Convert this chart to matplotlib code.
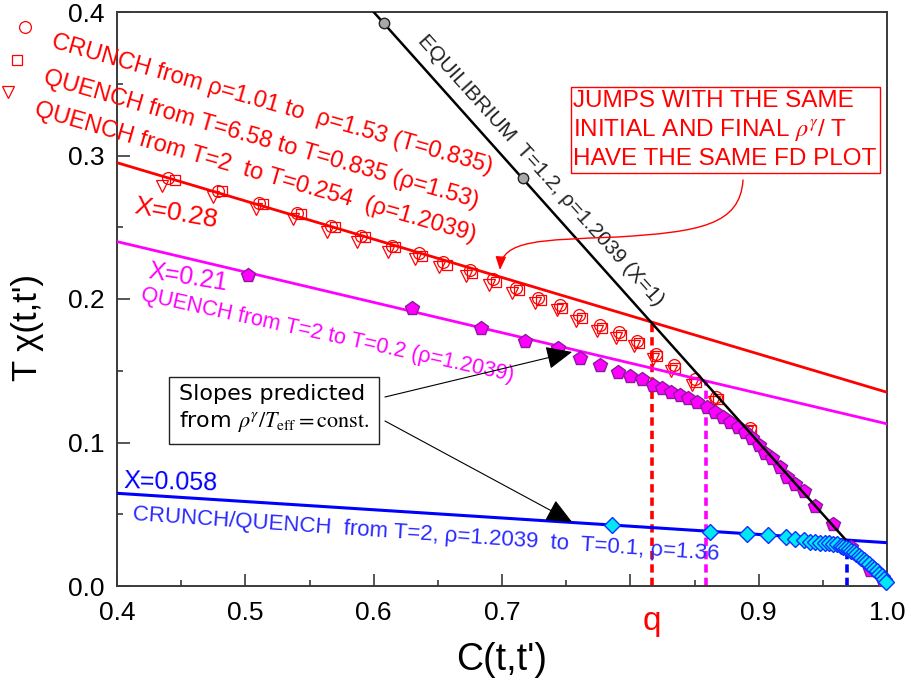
import matplotlib
matplotlib.use("Agg")
import matplotlib.pyplot as plt
from matplotlib.ticker import MultipleLocator, FixedLocator, FixedFormatter
from matplotlib.patches import FancyArrowPatch
from matplotlib.path import Path

plt.rcParams['font.family'] = ['Liberation Sans', 'DejaVu Sans']
plt.rcParams['mathtext.fontset'] = 'stix'

# ---------------- data ----------------
fit_C = [0.4, 1.0]
red_fit = [0.295, 0.135]        # X = 0.28
magenta_fit = [0.240, 0.113]    # X = 0.21
blue_fit = [0.0646, 0.0302]     # X = 0.058
eq_C = [0.6, 1.0]
eq_y = [0.4, 0.0]               # equilibrium, X = 1
eq_pts_C = [0.608, 0.716]
eq_pts_y = [0.392, 0.284]

x_ticks = [0.4, 0.5, 0.6, 0.7, 0.8, 0.9, 1.0]
x_tick_labels = ["0.4", "0.5", "0.6", "0.7", "", "0.9", "1.0"]
y_ticks = [0.0, 0.1, 0.2, 0.3, 0.4]
y_tick_labels = ["0.0", "0.1", "0.2", "0.3", "0.4"]

circ_C = [0.440, 0.479, 0.511, 0.540, 0.567, 0.590, 0.614, 0.635, 0.654, 0.675, 0.693, 0.711,
          0.728, 0.745, 0.760, 0.776, 0.791, 0.805, 0.820, 0.834, 0.850, 0.867, 0.893]
circ_y = [0.284, 0.275, 0.267, 0.260, 0.251, 0.244, 0.237, 0.232, 0.226, 0.220, 0.214, 0.208,
          0.201, 0.196, 0.189, 0.182, 0.177, 0.171, 0.162, 0.154, 0.144, 0.132, 0.110]
sq_C = [0.445, 0.482, 0.514, 0.543, 0.570, 0.593, 0.617, 0.638, 0.657, 0.677, 0.695, 0.713,
        0.730, 0.747, 0.762, 0.778, 0.793, 0.807, 0.821, 0.835, 0.851, 0.868, 0.894]
sq_y = [0.283, 0.275, 0.266, 0.259, 0.250, 0.243, 0.236, 0.230, 0.224, 0.218, 0.212, 0.206,
        0.199, 0.194, 0.187, 0.180, 0.175, 0.169, 0.160, 0.152, 0.142, 0.130, 0.109]
tri_C = [0.435, 0.475, 0.508, 0.537, 0.564, 0.587, 0.611, 0.632, 0.651, 0.672, 0.690, 0.708,
         0.726, 0.743, 0.758, 0.774, 0.789, 0.803, 0.818, 0.832, 0.848, 0.865, 0.891]
tri_y = [0.279, 0.271, 0.263, 0.256, 0.247, 0.240, 0.233, 0.228, 0.222, 0.216, 0.210, 0.204,
         0.197, 0.192, 0.185, 0.178, 0.173, 0.167, 0.158, 0.150, 0.140, 0.128, 0.107]

pent_C = [0.502, 0.630, 0.684, 0.718, 0.744, 0.761, 0.776, 0.790, 0.800, 0.809, 0.818, 0.825,
          0.832, 0.839, 0.845, 0.852, 0.860, 0.866, 0.872, 0.878, 0.884, 0.889, 0.895, 0.900,
          0.905, 0.910, 0.917, 0.922, 0.928, 0.935, 0.944, 0.958, 0.972, 0.987, 0.997]
pent_y = [0.217, 0.194, 0.180, 0.171, 0.166, 0.159, 0.154, 0.149, 0.146, 0.144, 0.140, 0.138,
          0.135, 0.133, 0.131, 0.128, 0.125, 0.121, 0.118, 0.114, 0.111, 0.107, 0.103, 0.098,
          0.093, 0.089, 0.083, 0.076, 0.071, 0.066, 0.056, 0.043, 0.027, 0.011, 0.004]

dia_C = [0.786, 0.862, 0.891, 0.907, 0.921, 0.928, 0.935, 0.940, 0.944, 0.948, 0.952, 0.955,
         0.958, 0.961, 0.964, 0.966, 0.968, 0.970, 0.972, 0.974, 0.976, 0.978, 0.980, 0.982,
         0.984, 0.986, 0.988, 0.990, 0.992, 0.994, 0.996, 0.998, 0.9995]
dia_y = [0.0425, 0.0376, 0.0362, 0.0355, 0.0341, 0.0330, 0.0318, 0.0310, 0.0306, 0.0303, 0.0300,
         0.0298, 0.0296, 0.0290, 0.0282, 0.0275, 0.0266, 0.0256, 0.0246, 0.0234, 0.0222, 0.0208,
         0.0194, 0.0180, 0.0165, 0.0150, 0.0134, 0.0118, 0.0102, 0.0086, 0.0068, 0.0048, 0.0030]

q_red = 0.8165
q_mag = 0.859
q_blue = 0.969

# ---------------- figure ----------------
fig = plt.figure(figsize=(9.11, 6.89), dpi=100)
ax = fig.add_axes([117/911, 103/689, 770/911, 574/689])
ax.set_xlim(0.4, 1.0)
ax.set_ylim(0.0, 0.4)

RED = '#ff0000'
MAG = '#ff00ff'
BLUE = '#0000ff'

# dashed verticals
dash = (0, (2.3, 1.4))
ax.plot([q_red, q_red], [0, 0.184], color=RED, lw=2.6, ls=dash, zorder=2)
ax.plot([q_mag, q_mag], [0, 0.142], color=MAG, lw=2.6, ls=dash, zorder=2)
ax.plot([q_blue, q_blue], [0, 0.031], color=BLUE, lw=2.6, ls=dash, zorder=2)

# red markers
mk = dict(mfc='none', mec=RED, mew=0.9, ls='none', zorder=3)
ax.plot(circ_C, circ_y, marker='o', ms=8.5, **mk)
ax.plot(sq_C, sq_y, marker='s', ms=7.5, **mk)
ax.plot(tri_C, tri_y, marker='v', ms=8.5, **mk)

# fit lines
ax.plot(fit_C, red_fit, color=RED, lw=2.0, zorder=4)
ax.plot(fit_C, magenta_fit, color=MAG, lw=2.0, zorder=3)
ax.plot(fit_C, blue_fit, color=BLUE, lw=2.2, zorder=3)

# pentagons
ax.plot(pent_C, pent_y, marker='p', ms=10, mfc=MAG, mec='#8a1a9a', mew=1.0, ls='none', zorder=4)

# equilibrium
ax.plot(eq_C, eq_y, color='black', lw=1.8, zorder=5)
ax.plot(eq_pts_C, eq_pts_y, marker='o', ms=7.5, mfc='#a8a8a8', mec='#222222', mew=1.0,
        ls='none', zorder=6)

# diamonds
ax.plot(dia_C, dia_y, marker='D', ms=8, mfc='#00e8f0', mec='#1030ff', mew=1.0, ls='none',
        zorder=6, clip_on=False)

# ---------------- axes styling ----------------
for s in ax.spines.values():
    s.set_color('#3a3a3a')
    s.set_linewidth(1.4)
ax.xaxis.set_major_locator(FixedLocator(x_ticks))
ax.xaxis.set_major_formatter(FixedFormatter(x_tick_labels))
ax.xaxis.set_minor_locator(MultipleLocator(0.05))
ax.yaxis.set_major_locator(FixedLocator(y_ticks))
ax.yaxis.set_major_formatter(FixedFormatter(y_tick_labels))
ax.yaxis.set_minor_locator(MultipleLocator(0.05))
ax.tick_params(which='both', direction='in', top=False, right=False, color='#3a3a3a')
ax.tick_params(which='major', length=9, width=1.2, labelsize=19)
ax.tick_params(which='minor', length=4.5, width=1.2)
ax.tick_params(axis='x', which='major', pad=11)
ax.tick_params(axis='y', which='major', pad=9)

fig.text(502/911, 1 - 660/689, "C(t,t')", ha='center', va='center', fontsize=27)
fig.text(27/911, 1 - 327/689, "T χ(t,t')", ha='center', va='center', fontsize=25, rotation=90)

# ---------------- annotations ----------------
ax.plot([0.328], [0.3895], marker='o', ms=8.5, mfc='none', mec=RED, mew=0.9, clip_on=False)
ax.plot([0.322], [0.3665], marker='s', ms=7.5, mfc='none', mec=RED, mew=0.9, clip_on=False)
ax.plot([0.315], [0.344], marker='v', ms=8.5, mfc='none', mec=RED, mew=0.9, clip_on=False)
rot = -16
ax.text(0.3478, 0.3756, "CRUNCH from ρ=1.01 to  ρ=1.53 (T=0.835)", color=RED, fontsize=17,
        rotation=rot, rotation_mode='anchor', ha='left', va='baseline')
ax.text(0.3416, 0.3505, "QUENCH from T=6.58 to T=0.835 (ρ=1.53)", color=RED, fontsize=17,
        rotation=rot, rotation_mode='anchor', ha='left', va='baseline')
ax.text(0.3345, 0.3282, "QUENCH from T=2  to T=0.254  (ρ=1.2039)", color=RED, fontsize=17,
        rotation=rot, rotation_mode='anchor', ha='left', va='baseline')

ax.text(0.4125, 0.260, "X=0.28", color=RED, fontsize=19, rotation=-10,
        rotation_mode='anchor', ha='left', va='baseline')
ax.text(0.4234, 0.2146, "X=0.21", color=MAG, fontsize=18, rotation=-9,
        rotation_mode='anchor', ha='left', va='baseline')
ax.text(0.418, 0.1993, "QUENCH from T=2 to T=0.2 (ρ=1.2039)", color=MAG, fontsize=15.5,
        rotation=-12.3, rotation_mode='anchor', ha='left', va='baseline')
ax.text(0.4047, 0.0683, "X=0.058", color=BLUE, fontsize=18, rotation=-1.5,
        rotation_mode='anchor', ha='left', va='baseline')
ax.text(0.4117, 0.046, "CRUNCH/QUENCH  from T=2, ρ=1.2039  to  T=0.1, ρ=1.36", color='#2a2aff',
        fontsize=16, rotation=-3.9, rotation_mode='anchor', ha='left', va='baseline')

ax.text(0.7304, 0.2899, "EQUILIBRIUM  T=1.2, ρ=1.2039 (X=1)", color='#222222', fontsize=15,
        rotation=-48, rotation_mode='anchor', ha='center', va='center')

# red box
ax.text(0.8738, 0.3178, "JUMPS WITH THE SAME\nINITIAL AND FINAL $\\rho^\\gamma$/ T\nHAVE THE SAME FD PLOT",
        color=RED, fontsize=17.5, ha='center', va='center', multialignment='left', linespacing=1.3,
        bbox=dict(boxstyle='square,pad=0.12', fc='white', ec=RED, lw=1.0), zorder=7)
curve_verts = [(0.8878, 0.2829), (0.8855, 0.2516), (0.8543, 0.2467), (0.7896, 0.2432),
               (0.7296, 0.2411), (0.7000, 0.2411), (0.6984, 0.2202)]
curve_codes = [Path.MOVETO, Path.CURVE4, Path.CURVE4, Path.CURVE4,
               Path.CURVE4, Path.CURVE4, Path.CURVE4]
red_arrow = FancyArrowPatch(path=Path(curve_verts, curve_codes),
                            arrowstyle='-|>,head_length=0.5,head_width=0.2', mutation_scale=16,
                            color=RED, lw=1.0, transform=ax.transData, zorder=7)
ax.add_patch(red_arrow)

# black box
ax.text(0.5223, 0.1233, "Slopes predicted\nfrom $\\rho^\\gamma/T_{\\rm eff} = \\mathrm{const.}$",
        family='DejaVu Sans', fontsize=16, ha='center', va='center', multialignment='left',
        linespacing=1.25,
        bbox=dict(boxstyle='square,pad=0.45', fc='white', ec='#222222', lw=1.0), zorder=7)
arr = dict(arrowstyle='-|>,head_length=0.9,head_width=0.4', color='black', lw=0.8,
           shrinkA=0, shrinkB=0, mutation_scale=18)
ax.annotate("", xy=(0.7546, 0.1631), xytext=(0.6088, 0.1317), arrowprops=arr, zorder=8)
ax.annotate("", xy=(0.7546, 0.0446), xytext=(0.6088, 0.115), arrowprops=arr, zorder=8)

# q label
ax.text(q_red, -0.014, "q", color=RED, fontsize=24, ha='center', va='top', clip_on=False)

fig.savefig("out.png", dpi=100)
